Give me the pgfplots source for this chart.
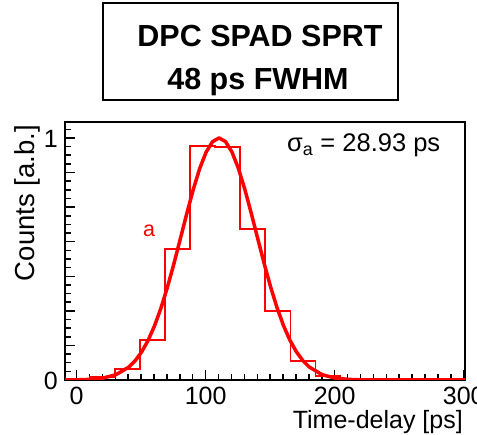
\documentclass[border=0pt]{standalone}
\usepackage{fontspec}
\setmainfont{Liberation Sans}
\usepackage{pgfplots}
\pgfplotsset{compat=1.18}
\begin{document}
\begin{tikzpicture}[x=1pt,y=1pt]
\begin{axis}[
  at={(0,0)}, anchor=south west,
  scale only axis, width=400pt, height=258pt,
  xmin=-9, xmax=301, ymin=0, ymax=1.066,
  axis line style={line width=1.8pt},
  tick pos=left,
  tick style={black, line width=1.5pt},
  major tick length=10pt, minor tick length=5.5pt,
  xtick={0,100,200,300},
  minor xtick={10,20,30,40,50,60,70,80,90,110,120,130,140,150,160,170,180,190,210,220,230,240,250,260,270,280,290},
  ytick={0,0.142857,0.285714,0.428571,0.571429,0.714286,0.857143,1},
  yticklabels={0,,,,,,,1},
  minor ytick={0.0357,0.0714,0.1071,0.1786,0.2143,0.25,0.3214,0.3571,0.3929,0.4643,0.5,0.5357,0.6071,0.6429,0.6786,0.75,0.7857,0.8214,0.8929,0.9286,0.9643,1.0357},
  ticklabel style={font=\fontsize{25}{25}\selectfont},
  xticklabel style={anchor=base, yshift=-24.5pt, inner sep=0pt},
  yticklabel style={anchor=east, xshift=-7pt, yshift=-1pt, inner sep=0pt},
  /pgf/number format/assume math mode=true,
]
\addplot[red, line width=1.8pt, const plot] coordinates {
(-9,0) (10.5,0.014) (29.9,0.044) (49.3,0.165) (68.7,0.540) (88.1,0.968) (107.5,0.962) (126.9,0.625) (146.3,0.286) (165.7,0.080) (185.1,0.018) (204.5,0) (301,0)};
\addplot[red, line width=3.5pt, line join=round] coordinates {
(-9,0.0002) (0.4,0.0007) (10.4,0.0025) (20.4,0.0078) (30.4,0.0217) (40.4,0.0532) (45.4,0.0797) (50.4,0.1159) (55.4,0.1635) (60.4,0.2239) (65.4,0.2975) (70.4,0.3837) (75.4,0.4803) (80.4,0.5835) (85.4,0.6879) (90.4,0.7870) (95.4,0.8740) (100.4,0.9419) (105.4,0.9851) (110.4,1.0) (115.4,0.9851) (120.4,0.9419) (125.4,0.8740) (130.4,0.7870) (135.4,0.6879) (140.4,0.5835) (145.4,0.4803) (150.4,0.3837) (155.4,0.2975) (160.4,0.2239) (165.4,0.1635) (170.4,0.1159) (175.4,0.0797) (180.4,0.0532) (190.4,0.0217) (200.4,0.0078) (210.4,0.0025) (220.4,0.0007) (240.4,0.00004) (301,0)};
\end{axis}
% labels
\node[anchor=base west, inner sep=0pt, font=\fontsize{25.5}{25.5}\selectfont] at (222,228) {σ\textsubscript{a} = 28.93 ps};
\node[anchor=base west, inner sep=0pt, text=red, font=\fontsize{21.5}{21.5}\selectfont] at (78,143) {a};
\node[anchor=base east, inner sep=0pt, font=\fontsize{25}{25}\selectfont] at (398,-49) {Time-delay [ps]};
\node[anchor=base east, inner sep=0pt, rotate=90, font=\fontsize{27.5}{27.5}\selectfont] at (-30,255) {Counts [a.b.]};
% title box
\draw[line width=2pt, fill=white] (38,377) rectangle (333,280);
\node[anchor=base, inner sep=0pt, font=\fontsize{30.5}{30.5}\selectfont\bfseries] at (195,333) {DPC SPAD SPRT};
\node[anchor=base, inner sep=0pt, font=\fontsize{30.5}{30.5}\selectfont\bfseries] at (193,290.7) {48 ps FWHM};
\pgfresetboundingbox
\useasboundingbox (-65,-55) rectangle (412,380);
\end{tikzpicture}
\end{document}
